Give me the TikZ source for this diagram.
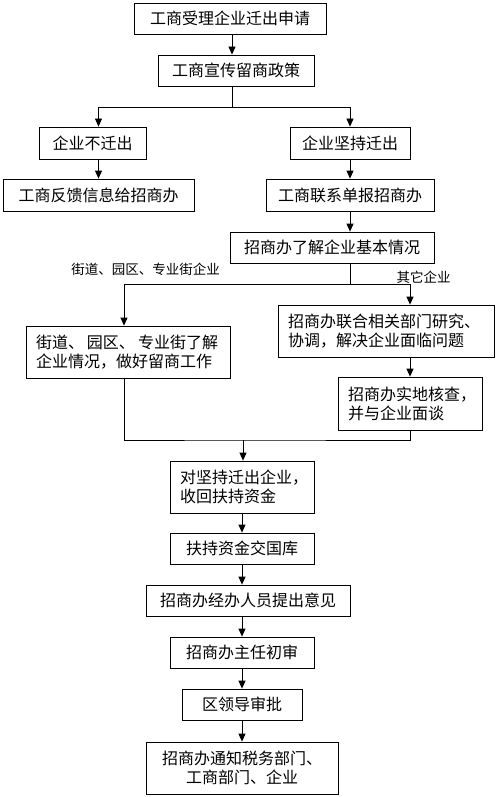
\documentclass[tikz,border=0pt]{standalone}
\usepackage{fontspec}
\setmainfont{Noto Sans CJK SC}
\usetikzlibrary{arrows.meta}
\begin{document}
\begin{tikzpicture}[x=1pt, y=-1pt,
        box/.style={draw, line width=0.8pt, inner xsep=10pt, inner ysep=2pt, font=\fontsize{16}{19}\selectfont},
        arr/.style={-{Triangle[length=8pt,width=7pt]}, line width=0.8pt},
        line/.style={line width=0.8pt},
        lbl/.style={font=\fontsize{13.5}{16}\selectfont, inner sep=1pt}]
        \useasboundingbox (0, 0) rectangle (498, 797);
        \node[box, minimum width=192pt, minimum height=31pt] (apply) at (230, 18.5) {工商受理企业迁出申请};
        \node[box, minimum width=156pt, minimum height=31pt] (policy) at (236, 70.5) {工商宣传留商政策};
        \node[box, minimum width=107pt, minimum height=32pt] (stay) at (92.5, 143) {企业不迁出};
        \node[box, minimum width=120pt, minimum height=32pt] (leave) at (350, 143) {企业坚持迁出};
        \node[box, minimum width=191pt, minimum height=32pt] (feedback) at (98.5, 195) {工商反馈信息给招商办};
        \node[box, minimum width=168pt, minimum height=32pt] (report) at (350, 195) {工商联系单报招商办};
        \node[box, minimum width=204pt, minimum height=31pt] (survey) at (332, 247.5) {招商办了解企业基本情况};
        \node[box, text width=184pt, align=left, minimum height=52pt] (street) at (128, 352) {\mbox{街道、\hspace{3pt}园区、\hspace{3pt}专业街了解}\\企业情况，做好留商工作};
        \node[box, text width=196pt, align=left, minimum height=52pt] (joint) at (386, 331) {招商办联合相关部门研究、\\协调，解决企业面临问题};
        \node[box, text width=124pt, align=left, minimum height=53pt] (visit) at (410, 403.5) {招商办实地核查，\\并与企业面谈};
        \node[box, text width=124pt, align=left, minimum height=52pt] (recover) at (242, 487) {对坚持迁出企业，\\收回扶持资金};
        \node[box, minimum width=144pt, minimum height=31pt] (treasury) at (242, 548.5) {扶持资金交国库};
        \node[box, minimum width=204pt, minimum height=31pt] (opinion) at (248, 600.5) {招商办经办人员提出意见};
        \node[box, minimum width=144pt, minimum height=31pt] (review) at (242, 652.5) {招商办主任初审};
        \node[box, minimum width=120pt, minimum height=31pt] (approve) at (242, 704.5) {区领导审批};
        \node[box, text width=172pt, align=center, minimum height=52pt] (notify) at (242, 768) {招商办通知税务部门、\\工商部门、企业};
        % branch labels
        \node[lbl] (streetlbl) at (145.5, 269) {街道、园区、专业街企业};
        \node[lbl] (otherlbl) at (423.5, 277) {其它企业};
        % connectors
        \coordinate (split1) at (232, 107);
        \coordinate (split2) at (350, 284);
        \coordinate (merge) at (243, 440);
        \draw[arr] (split1 |- apply.south) -- (split1 |- policy.north);
        \draw[line] (split1 |- policy.south) -- (split1);
        \draw[arr] (split1) -| (feedback.north |- stay.north);
        \draw[arr] (split1) -| (leave.north);
        \draw[arr] (feedback.north |- stay.south) -- (feedback.north);
        \draw[arr] (leave) -- (report);
        \draw[arr] (report) -- (report |- survey.north);
        \draw[line] (split2 |- survey.south) -- (split2);
        \draw[arr] (split2) -| ([xshift=-4pt]street.north);
        \draw[arr] (split2) -| (visit.north |- joint.north);
        \draw[arr] (visit.north |- joint.south) -- (visit.north);
        \draw[line] ([xshift=-4pt]street.south) |- (merge) -| (visit.south);
        \draw[arr] (merge) -- (merge |- recover.north);
        \draw[arr] (recover) -- (treasury);
        \draw[arr] (treasury) -- (treasury |- opinion.north);
        \draw[arr] (review |- opinion.south) -- (review.north);
        \draw[arr] (review) -- (approve);
        \draw[arr] (approve) -- (notify);
    \end{tikzpicture}
\end{document}
